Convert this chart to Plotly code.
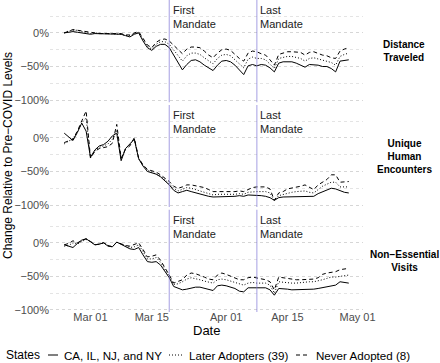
import pandas as pd
import plotly.graph_objects as go
from plotly.subplots import make_subplots

# ---------------- data ----------------
dates = pd.date_range("2020-02-24", "2020-04-29", freq="D")

groups = ["CA, IL, NJ, and NY", "Later Adopters (39)", "Never Adopted (8)"]
metrics = ["Distance<br>Traveled", "Unique<br>Human<br>Encounters", "Non−Essential<br>Visits"]

dist_early = [0, 1, 2, 1, 0, -1, -2, -1, -1, -1,
              -1, -1, -1, -2, -4, -6, -2, 0, -12, -22,
              -26, -20, -17, -17, -22, -33, -45, -55, -47, -41,
              -40, -43, -48, -52, -56, -48, -42, -41, -43, -48,
              -55, -62, -49, -47, -49, -47, -48, -52, -58, -45,
              -43, -43, -43, -45, -48, -51, -47, -47, -48, -50,
              -50, -53, -58, -42, -41, -40]
dist_later = [0, 3, 4, 4, 2, 1, -1, 0, -1, -1,
              -1, -1, -1, -2, -4, -4, -1, 1, -10, -20,
              -24, -17, -13, -13, -17, -25, -33, -42, -34, -30,
              -30, -32, -37, -42, -46, -38, -33, -32, -34, -40,
              -46, -52, -39, -36, -38, -38, -40, -46, -53, -38,
              -36, -35, -35, -36, -38, -42, -38, -37, -39, -41,
              -42, -44, -48, -35, -32, -30]
dist_never = [0, 3, 5, 4, 3, 2, 0, 0, -1, -1,
              -1, 0, 0, -1, -3, -3, 0, 2, -8, -18,
              -22, -14, -10, -9, -12, -18, -25, -31, -24, -21,
              -21, -22, -27, -33, -37, -30, -25, -24, -26, -32,
              -38, -42, -30, -27, -28, -31, -33, -40, -48, -32,
              -30, -28, -28, -28, -29, -33, -29, -28, -31, -33,
              -34, -37, -38, -27, -24, -22]

enc_early = [7, 2, -4, 8, 22, 10, -29, -18, -12, -10,
             -5, 3, 7, -34, -16, -9, -2, -31, -42, -50,
             -52, -54, -58, -64, -70, -78, -82, -80, -78, -80,
             -82, -84, -86, -87, -88, -88, -88, -88, -88, -87,
             -86, -87, -85, -85, -85, -86, -87, -89, -93, -89,
             -88, -88, -87, -87, -88, -88, -88, -87, -83, -80,
             -77, -75, -76, -79, -81, -82]
enc_later = [-9, -5, -1, 9, 22, 30, -30, -19, -14, -12,
             -9, -2, 12, -32, -16, -10, -1, -31, -41, -48,
             -51, -53, -57, -62, -68, -75, -79, -77, -74, -75,
             -77, -79, -81, -83, -85, -84, -84, -85, -84, -84,
             -83, -84, -81, -80, -80, -80, -80, -82, -93, -86,
             -84, -82, -81, -80, -80, -79, -81, -82, -77, -72,
             -69, -66, -66, -73, -73, -73]
enc_never = [-7, -4, -2, 10, 25, 40, -30, -20, -16, -15,
             -13, -8, 20, -30, -17, -12, 0, -30, -40, -47,
             -49, -51, -55, -60, -65, -72, -75, -73, -70, -70,
             -71, -72, -74, -77, -80, -80, -80, -81, -80, -80,
             -79, -80, -77, -74, -73, -73, -73, -76, -93, -82,
             -80, -76, -75, -73, -72, -70, -74, -77, -70, -66,
             -62, -55, -55, -66, -66, -65]

vis_early = [-3, -5, -7, -1, 4, 6, 1, -3, -2, 0,
             -5, -6, 1, -2, -6, -9, -10, -7, -18, -28,
             -29, -28, -33, -42, -52, -65, -68, -70, -69, -67,
             -66, -66, -68, -70, -71, -64, -63, -64, -66, -68,
             -72, -73, -67, -67, -67, -67, -67, -70, -78, -68,
             -68, -69, -70, -70, -70, -70, -70, -69, -68, -67,
             -66, -65, -63, -58, -59, -60]
vis_later = [-5, -4, 0, -2, 2, 5, 2, -3, -2, 0,
             -4, -6, 1, -2, -5, -7, -6, -3, -13, -24,
             -24, -22, -29, -39, -50, -62, -61, -58, -54, -52,
             -53, -55, -57, -58, -60, -55, -54, -55, -57, -60,
             -62, -63, -60, -59, -60, -60, -60, -63, -75, -58,
             -59, -60, -60, -60, -59, -59, -58, -58, -57, -55,
             -53, -51, -51, -50, -49, -48]
vis_never = [-3, -1, 3, 0, 3, 6, 2, -3, -2, 0,
             -4, -6, 1, -2, -4, -5, -3, 0, -10, -21,
             -20, -18, -26, -36, -48, -60, -58, -55, -48, -45,
             -46, -48, -51, -54, -55, -48, -45, -47, -50, -52,
             -55, -55, -52, -51, -52, -54, -55, -58, -70, -51,
             -52, -54, -55, -55, -55, -55, -55, -54, -52, -47,
             -45, -44, -43, -40, -39, -38]

series = [
    [dist_early, dist_later, dist_never],
    [enc_early, enc_later, enc_never],
    [vis_early, vis_later, vis_never],
]

mandate_dates = ["2020-03-19", "2020-04-08"]
mandate_labels = ["First<br>Mandate", "Last<br>Mandate"]

y_tick_vals = [0, -50, -100]
y_tick_text = ["0%", "−50%", "−100%"]
y_minor_vals = [25, -25, -75]
x_tick_vals = ["2020-03-01", "2020-03-15", "2020-04-01", "2020-04-15", "2020-05-01"]
x_tick_text = ["Mar 01", "Mar 15", "Apr 01", "Apr 15", "May 01"]

# ---------------- styles ----------------
FONT = "Liberation Sans, Arial, sans-serif"
dashes = ["solid", "1px,2px", "4px,3px"]
W, H = 440, 363
ML, MR, MT, MB = 50, 77, 0, 51
PW, PH = W - ML - MR, H - MT - MB


def px_x(p):
    return (p - ML) / PW


def px_y(p):
    return (H - MB - p) / PH


fig = make_subplots(rows=3, cols=1, shared_xaxes=True, vertical_spacing=0.009)

# weekend bands (Saturday -> Sunday)
for d in dates:
    if d.dayofweek == 5:
        fig.add_vrect(x0=d, x1=d + pd.Timedelta(days=1), fillcolor="#000000",
                      opacity=0.05, line_width=0, layer="below", row="all", col=1)

for r in range(3):
    fig.add_hline(y=0, line=dict(color="#bcbcbc", width=1, dash="4px,3px"),
                  layer="below", row=r + 1, col=1)
    for g in range(3):
        fig.add_trace(go.Scatter(
            x=dates, y=series[r][g], mode="lines", name=groups[g],
            line=dict(color="black", width=1, dash=dashes[g]),
            showlegend=False), row=r + 1, col=1)
    for md, ml in zip(mandate_dates, mandate_labels):
        fig.add_vline(x=pd.Timestamp(md).value / 1e6,
                      line=dict(color="rgba(130,120,215,0.55)", width=1.3),
                      row=r + 1, col=1)
        fig.add_annotation(x=md, y=1, xref=f"x{r + 1}" if r else "x",
                           yref=(f"y{r + 1} domain" if r else "y domain"),
                           text=ml, showarrow=False, xanchor="left", yanchor="top",
                           align="left", xshift=1.5, yshift=-2,
                           font=dict(family=FONT, size=11, color="#222222"))
    fig.add_annotation(x=px_x(404), y=0.5, xref="paper",
                       yref=(f"y{r + 1} domain" if r else "y domain"),
                       text="<b>" + metrics[r] + "</b>", showarrow=False,
                       xanchor="center", yanchor="middle", align="center",
                       font=dict(family=FONT, size=10, color="black"))

fig.update_yaxes(range=[-103, 49], tickvals=y_tick_vals, ticktext=y_tick_text,
                 showgrid=True, gridcolor="#d6d6d6", griddash="dot", gridwidth=1,
                 zeroline=False, showline=False, ticks="",
                 tickfont=dict(family=FONT, size=11, color="#4d4d4d"),
                 minor=dict(tickvals=y_minor_vals, showgrid=True, gridcolor="#e4e4e4",
                            griddash="dot", gridwidth=1))
fig.update_xaxes(range=["2020-02-20 18:00", "2020-05-02 06:00"], tickvals=x_tick_vals,
                 ticktext=x_tick_text, showgrid=False, zeroline=False, showline=False,
                 ticks="", ticklabelstandoff=-3,
                 tickfont=dict(family=FONT, size=11, color="#4d4d4d"))

# axis titles
fig.add_annotation(x=px_x(8), y=0.5, xref="paper", yref="paper", textangle=-90,
                   text="Change Relative to Pre−COVID Levels", showarrow=False,
                   xanchor="center", yanchor="middle",
                   font=dict(family=FONT, size=12, color="black"))
fig.add_annotation(x=0.5, y=px_y(330), xref="paper", yref="paper", text="Date",
                   showarrow=False, xanchor="center", yanchor="middle",
                   font=dict(family=FONT, size=13, color="black"))

# manual legend
ly = px_y(355)
fig.add_annotation(x=px_x(4), y=ly, xref="paper", yref="paper", text="States",
                   showarrow=False, xanchor="left", yanchor="middle",
                   font=dict(family=FONT, size=12, color="black"))
legend_keys = [(48, 58, 62), (169, 182, 187), (296, 308, 314)]
for g, (k0, k1, tx) in enumerate(legend_keys):
    fig.add_shape(type="line", xref="paper", yref="paper", x0=px_x(k0), x1=px_x(k1),
                  y0=ly, y1=ly, line=dict(color="black", width=1, dash=dashes[g]))
    fig.add_annotation(x=px_x(tx), y=ly, xref="paper", yref="paper", text=groups[g],
                       showarrow=False, xanchor="left", yanchor="middle",
                       font=dict(family=FONT, size=11.6, color="black"))

fig.update_layout(width=W, height=H, margin=dict(l=ML, r=MR, t=MT, b=MB),
                  plot_bgcolor="white", paper_bgcolor="white", showlegend=False,
                  font=dict(family=FONT))

fig.write_html("out.html", config={"displayModeBar": False},
               post_script="document.body.style.margin='0';"
                           "document.body.style.overflow='hidden';")
